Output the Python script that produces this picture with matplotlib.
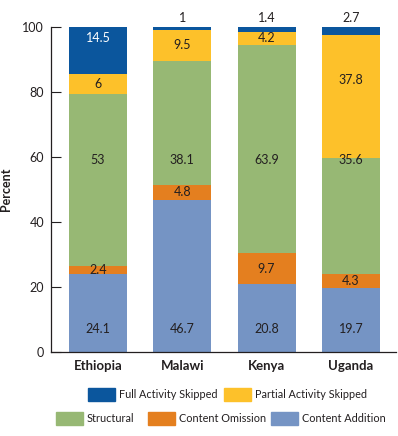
import matplotlib
matplotlib.use("Agg")
import matplotlib.pyplot as plt
from matplotlib.patches import Rectangle
import numpy as np

plt.rcParams['font.family'] = ['Lato', 'DejaVu Sans']

countries = ["Ethiopia", "Malawi", "Kenya", "Uganda"]
content_addition = [24.1, 46.7, 20.8, 19.7]
content_omission = [2.4, 4.8, 9.7, 4.3]
structural = [53, 38.1, 63.9, 35.6]
partial_skipped = [6, 9.5, 4.2, 37.8]
full_skipped = [14.5, 1, 1.4, 2.7]

series = [
    ("Content Addition", content_addition, "#7594c4"),
    ("Content Omission", content_omission, "#e47f1f"),
    ("Structural", structural, "#97b874"),
    ("Partial Activity Skipped", partial_skipped, "#fdc12a"),
    ("Full Activity Skipped", full_skipped, "#0b569d"),
]

W, H = 398, 436
fig = plt.figure(figsize=(W/100, H/100), dpi=100)
ax = fig.add_axes([51/W, 1-352/H, 345/W, 325/H])

x = np.arange(len(countries))
width = 0.688
bottom = np.zeros(len(countries))
txt = "#231f20"
for name, vals, col in series:
    vals = np.array(vals, dtype=float)
    ax.bar(x, vals, width, bottom=bottom, color=col, label=name)
    for i, v in enumerate(vals):
        if name == "Full Activity Skipped" and v < 3:
            ax.text(x[i], 100.8, f"{v:g}", ha="center", va="bottom", fontsize=9, color=txt)
            continue
        c = "white" if name == "Full Activity Skipped" else txt
        if name == "Content Addition":
            y = 7
        elif name == "Structural":
            y = 59
        elif name == "Full Activity Skipped":
            y = 96.5
        elif name == "Partial Activity Skipped" and countries[i] == "Uganda":
            y = 83.8
        else:
            y = bottom[i] + v / 2
        ax.text(x[i], y, f"{v:g}", ha="center", va="center", fontsize=9, color=c)
    bottom += vals

ax.set_xlim(-0.557, 3.535)
ax.set_ylim(0, 100)
ax.set_yticks([0, 20, 40, 60, 80, 100])
ax.tick_params(axis="y", direction="in", length=7.5, width=0.8, labelsize=9, pad=5, colors=txt)
ax.tick_params(axis="x", length=0, labelsize=9.5, pad=6)
ax.set_xticks(x)
ax.set_xticklabels(countries, fontweight="bold", color=txt)
for s in ["top", "right"]:
    ax.spines[s].set_visible(False)
for s in ["left", "bottom"]:
    ax.spines[s].set_linewidth(0.9)
    ax.spines[s].set_color(txt)
ax.set_ylabel("Percent", fontweight="bold", fontsize=9, color=txt)
ax.yaxis.set_label_coords(-39/345, 0.5)

# legend, laid out in two rows like the reference
colors = {n: c for n, _, c in series}
legend_rows = [
    (394, [("Full Activity Skipped", 88), ("Partial Activity Skipped", 224)]),
    (418, [("Structural", 56), ("Content Omission", 148), ("Content Addition", 271)]),
]
pw, ph = 27, 13
for yc, items in legend_rows:
    for name, x0 in items:
        fig.patches.append(Rectangle((x0/W, 1-(yc+ph/2)/H), pw/W, ph/H,
                                     transform=fig.transFigure, color=colors[name]))
        fig.text((x0+pw+4)/W, 1-yc/H, name, ha="left", va="center",
                 fontsize=7.8, color=txt)

fig.savefig("out.png", dpi=100)
